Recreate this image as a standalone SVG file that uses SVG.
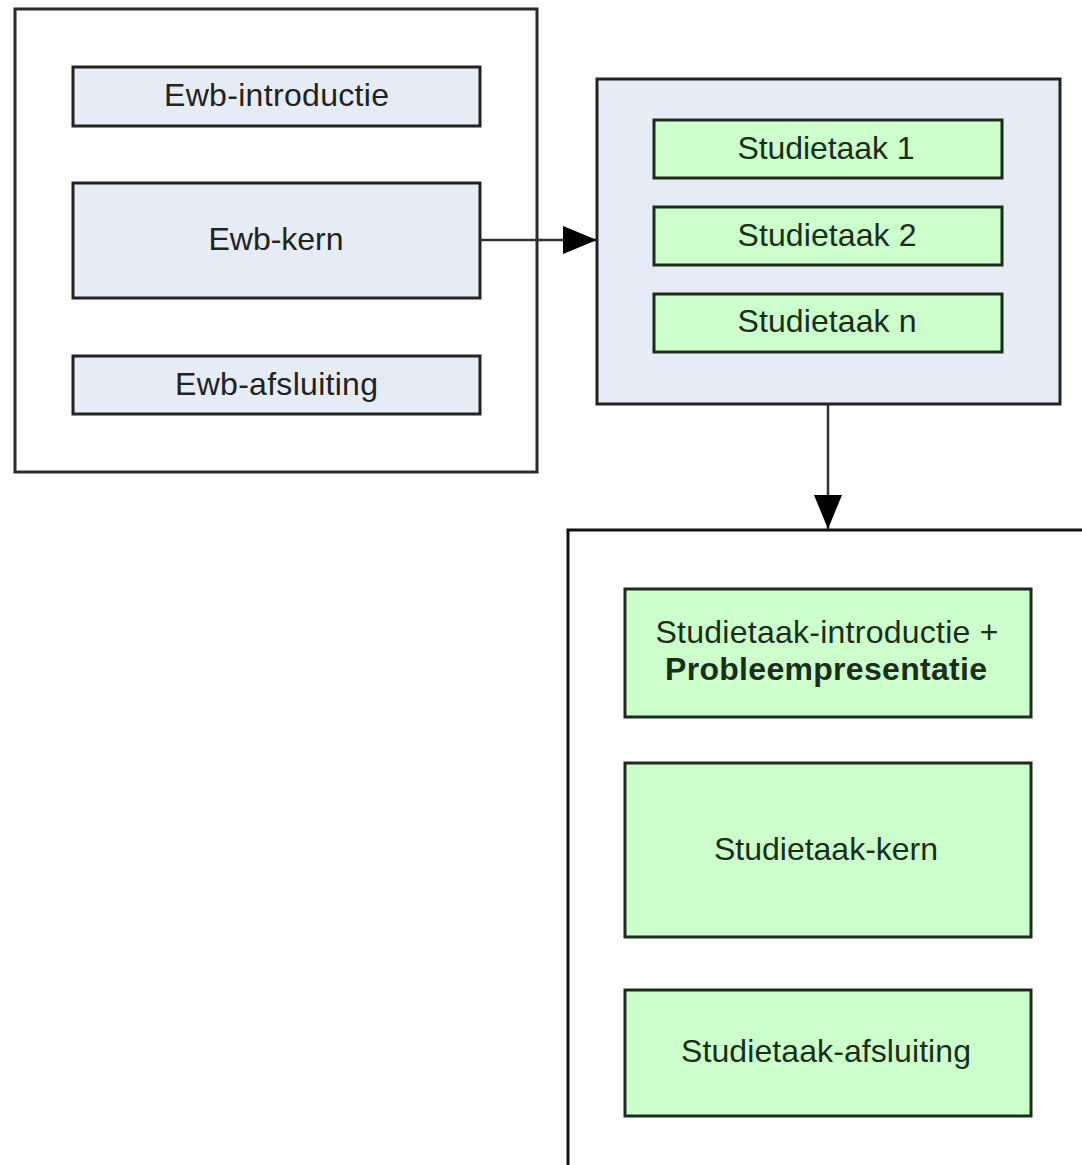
<svg xmlns="http://www.w3.org/2000/svg" width="1082" height="1165" viewBox="0 0 1082 1165">
  <defs>
    <marker id="arrow" markerUnits="userSpaceOnUse" markerWidth="36" markerHeight="30" refX="34" refY="14" orient="auto">
      <path d="M0,0 L34,14 L0,28 Z" fill="#000"/>
    </marker>
  </defs>
  <style>
    .frame { fill: #ffffff; stroke: #2a2a2a; stroke-width: 3; }
    .blue { fill: #e6ecf6; stroke: #222; stroke-width: 3; }
    .green { fill: #ccffcc; stroke: #1e2a1e; stroke-width: 3; }
    .lbl { font-family: "Liberation Sans", Arial, sans-serif; font-size: 32px; text-anchor: middle; fill: #222; }
    .glbl { font-family: "Liberation Sans", Arial, sans-serif; font-size: 32px; text-anchor: middle; fill: #1a2e1a; }
    .bold { font-weight: bold; }
    .edge { fill: none; stroke: #333; stroke-width: 2.5; }
  </style>
  <rect width="1082" height="1165" fill="#ffffff"/>

  <!-- Ewb container -->
  <g id="ewb">
    <rect class="frame" x="15" y="9" width="522" height="463"/>
    <g id="ewb-introductie">
      <rect class="blue" x="73" y="67" width="407" height="59"/>
      <text class="lbl" x="276.5" y="106" textLength="225" lengthAdjust="spacing">Ewb-introductie</text>
    </g>
    <g id="ewb-kern">
      <rect class="blue" x="73" y="183" width="407" height="115"/>
      <text class="lbl" x="276" y="250" textLength="135" lengthAdjust="spacing">Ewb-kern</text>
    </g>
    <g id="ewb-afsluiting">
      <rect class="blue" x="73" y="356" width="407" height="58"/>
      <text class="lbl" x="276.5" y="395" textLength="203" lengthAdjust="spacing">Ewb-afsluiting</text>
    </g>
  </g>

  <!-- Studietaken container -->
  <g id="studietaken">
    <rect class="blue" x="597" y="79" width="463" height="325"/>
    <g id="studietaak-1">
      <rect class="green" x="654" y="120" width="348" height="58"/>
      <text class="glbl" x="826" y="159" textLength="177" lengthAdjust="spacing">Studietaak 1</text>
    </g>
    <g id="studietaak-2">
      <rect class="green" x="654" y="207" width="348" height="58"/>
      <text class="glbl" x="827" y="246" textLength="179" lengthAdjust="spacing">Studietaak 2</text>
    </g>
    <g id="studietaak-n">
      <rect class="green" x="654" y="294" width="348" height="58"/>
      <text class="glbl" x="827" y="332" textLength="179" lengthAdjust="spacing">Studietaak n</text>
    </g>
  </g>

  <!-- Studietaak structure (open to the right and bottom) -->
  <g id="studietaak">
    <path d="M568,1165 L568,530 L1082,530" fill="none" stroke="#111" stroke-width="3"/>
    <g id="studietaak-introductie">
      <rect class="green" x="625" y="589" width="406" height="128"/>
      <text class="glbl" x="827" y="643" textLength="343" lengthAdjust="spacing">Studietaak-introductie +</text>
      <text class="glbl bold" x="826" y="680" textLength="322" lengthAdjust="spacing">Probleempresentatie</text>
    </g>
    <g id="studietaak-kern">
      <rect class="green" x="625" y="763" width="406" height="174"/>
      <text class="glbl" x="826" y="860" textLength="224" lengthAdjust="spacing">Studietaak-kern</text>
    </g>
    <g id="studietaak-afsluiting">
      <rect class="green" x="625" y="990" width="406" height="126"/>
      <text class="glbl" x="826" y="1062" textLength="290" lengthAdjust="spacing">Studietaak-afsluiting</text>
    </g>
  </g>

  <!-- connectors -->
  <g id="connectors">
    <line class="edge" x1="480" y1="240" x2="597" y2="240" marker-end="url(#arrow)"/>
    <line class="edge" x1="828" y1="404" x2="828" y2="529" marker-end="url(#arrow)"/>
  </g>
</svg>
